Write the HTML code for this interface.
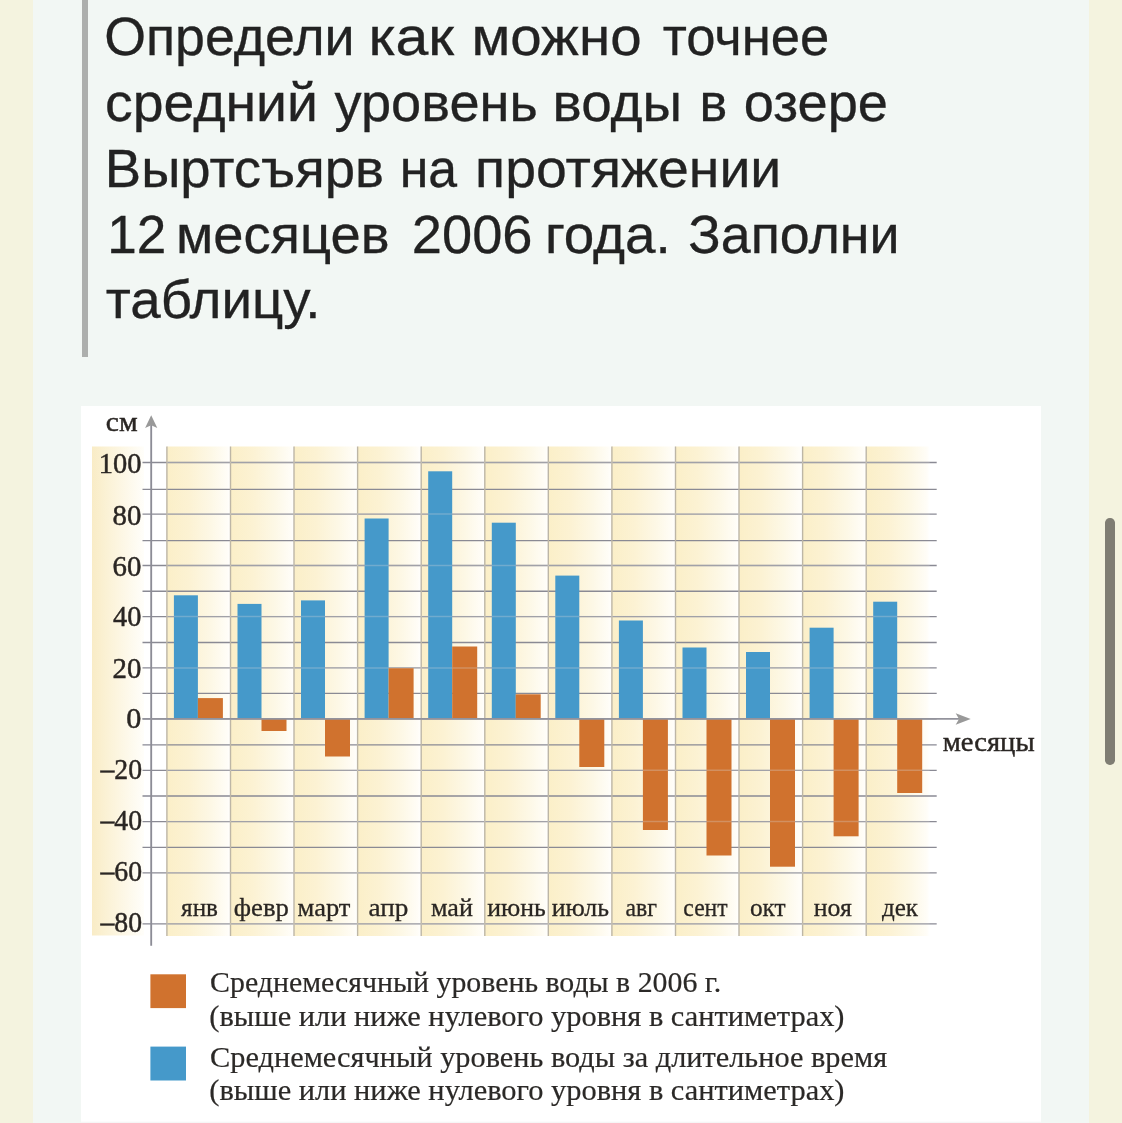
<!DOCTYPE html>
<html lang="ru">
<head>
<meta charset="utf-8">
<title>Определи средний уровень воды</title>
<style>
html,body{margin:0;padding:0;}
body{width:1122px;height:1123px;overflow:hidden;background:#f4f3df;position:relative;font-family:"Liberation Sans",sans-serif;}
.panel{position:absolute;left:32.8px;top:0;width:1056.5px;height:1123px;background:#f2f7f4;}
.quote{position:absolute;left:82.3px;top:0;width:5.5px;height:357px;background:#adafad;}
.title{position:absolute;left:0;top:0;}
.figure{position:absolute;left:81.3px;top:406px;width:960px;height:717px;background:#ffffff;box-shadow:inset 0 -2px 2px -1px rgba(0,0,0,0.05);}
.chart{position:absolute;left:0;top:0;display:block;}
.soft{filter:blur(0.6px);}
.softt{filter:blur(0.5px);}
.scroll{position:absolute;left:1105px;top:517.5px;width:9.5px;height:247px;border-radius:4.75px;background:#7f7d73;}
</style>
</head>
<body>
<div class="panel"></div>
<div class="quote"></div>
<svg class="title" width="1000" height="400" viewBox="0 0 1000 400"><g font-family="'Liberation Sans', sans-serif" fill="#222222" stroke="#222222" stroke-width="0.3">
<text y="55.4" font-size="53.2"><tspan x="104.18" textLength="250.47" lengthAdjust="spacingAndGlyphs">Определи</tspan> <tspan x="368.41" textLength="85.77" lengthAdjust="spacingAndGlyphs">как</tspan> <tspan x="471.47" textLength="170.12" lengthAdjust="spacingAndGlyphs">можно</tspan> <tspan x="662.68" textLength="166.66" lengthAdjust="spacingAndGlyphs">точнее</tspan></text>
<text y="121.0" font-size="53.2"><tspan x="104.97" textLength="213.08" lengthAdjust="spacingAndGlyphs">средний</tspan> <tspan x="334.50" textLength="203.18" lengthAdjust="spacingAndGlyphs">уровень</tspan> <tspan x="552.57" textLength="129.47" lengthAdjust="spacingAndGlyphs">воды</tspan> <tspan x="699.53" textLength="27.81" lengthAdjust="spacingAndGlyphs">в</tspan> <tspan x="743.71" textLength="144.29" lengthAdjust="spacingAndGlyphs">озере</tspan></text>
<text y="186.8" font-size="53.2"><tspan x="104.84" textLength="279.16" lengthAdjust="spacingAndGlyphs">Выртсъярв</tspan> <tspan x="399.66" textLength="57.41" lengthAdjust="spacingAndGlyphs">на</tspan> <tspan x="475.14" textLength="306.21" lengthAdjust="spacingAndGlyphs">протяжении</tspan></text>
<text y="252.7" font-size="53.2"><tspan x="107.28" textLength="59.07" lengthAdjust="spacingAndGlyphs">12</tspan> <tspan x="175.91" textLength="213.59" lengthAdjust="spacingAndGlyphs">месяцев</tspan> <tspan x="411.86" textLength="120.64" lengthAdjust="spacingAndGlyphs">2006</tspan> <tspan x="544.97" textLength="125.89" lengthAdjust="spacingAndGlyphs">года.</tspan> <tspan x="688.32" textLength="211.23" lengthAdjust="spacingAndGlyphs">Заполни</tspan></text>
<text y="317.9" font-size="53.2"><tspan x="105.85" textLength="214.60" lengthAdjust="spacingAndGlyphs">таблицу.</tspan></text>
</g></svg>
<div class="figure">
<svg class="chart" width="960" height="717" viewBox="81.3 406 960 717">
<defs>
<linearGradient id="gc" x1="0" x2="1" y1="0" y2="0"><stop offset="0" stop-color="#fbefc8"/><stop offset="0.35" stop-color="#fcf2d3"/><stop offset="0.7" stop-color="#fdf8e6"/><stop offset="0.95" stop-color="#fffdf7"/><stop offset="1" stop-color="#ffffff"/></linearGradient>
<linearGradient id="gl" x1="0" x2="1" y1="0" y2="0"><stop offset="0" stop-color="#f9ecc6"/><stop offset="0.3" stop-color="#fbf2d6"/><stop offset="0.65" stop-color="#fdf8e8"/><stop offset="1" stop-color="#fffefa"/></linearGradient>
</defs>
<g class="soft">
<rect x="92.3" y="446.5" width="52" height="489" fill="url(#gl)"/>
<rect x="167.2" y="446.5" width="63.6" height="489.5" fill="url(#gc)"/>
<rect x="230.8" y="446.5" width="63.6" height="489.5" fill="url(#gc)"/>
<rect x="294.3" y="446.5" width="63.6" height="489.5" fill="url(#gc)"/>
<rect x="357.9" y="446.5" width="63.6" height="489.5" fill="url(#gc)"/>
<rect x="421.5" y="446.5" width="63.6" height="489.5" fill="url(#gc)"/>
<rect x="485.1" y="446.5" width="63.6" height="489.5" fill="url(#gc)"/>
<rect x="548.6" y="446.5" width="63.6" height="489.5" fill="url(#gc)"/>
<rect x="612.2" y="446.5" width="63.6" height="489.5" fill="url(#gc)"/>
<rect x="675.8" y="446.5" width="63.6" height="489.5" fill="url(#gc)"/>
<rect x="739.3" y="446.5" width="63.6" height="489.5" fill="url(#gc)"/>
<rect x="802.9" y="446.5" width="63.6" height="489.5" fill="url(#gc)"/>
<rect x="866.5" y="446.5" width="63.6" height="489.5" fill="url(#gc)"/>
<line x1="142.8" x2="937" y1="462.5" y2="462.5" stroke="#8a8a94" stroke-width="1.35"/>
<line x1="142.8" x2="937" y1="489.3" y2="489.3" stroke="#8a8a94" stroke-width="1.35"/>
<line x1="142.8" x2="937" y1="514.1" y2="514.1" stroke="#8a8a94" stroke-width="1.35"/>
<line x1="142.8" x2="937" y1="540.6" y2="540.6" stroke="#8a8a94" stroke-width="1.35"/>
<line x1="142.8" x2="937" y1="565.5" y2="565.5" stroke="#8a8a94" stroke-width="1.35"/>
<line x1="142.8" x2="937" y1="591.2" y2="591.2" stroke="#8a8a94" stroke-width="1.35"/>
<line x1="142.8" x2="937" y1="616.6" y2="616.6" stroke="#8a8a94" stroke-width="1.35"/>
<line x1="142.8" x2="937" y1="642.5" y2="642.5" stroke="#8a8a94" stroke-width="1.35"/>
<line x1="142.8" x2="937" y1="667.9" y2="667.9" stroke="#8a8a94" stroke-width="1.35"/>
<line x1="142.8" x2="937" y1="693.3" y2="693.3" stroke="#8a8a94" stroke-width="1.35"/>
<line x1="142.8" x2="937" y1="718.8" y2="718.8" stroke="#8a8a94" stroke-width="1.35"/>
<line x1="142.8" x2="937" y1="744.9" y2="744.9" stroke="#8a8a94" stroke-width="1.35"/>
<line x1="142.8" x2="937" y1="770.3" y2="770.3" stroke="#8a8a94" stroke-width="1.35"/>
<line x1="142.8" x2="937" y1="796.0" y2="796.0" stroke="#8a8a94" stroke-width="1.35"/>
<line x1="142.8" x2="937" y1="821.6" y2="821.6" stroke="#8a8a94" stroke-width="1.35"/>
<line x1="142.8" x2="937" y1="847.4" y2="847.4" stroke="#8a8a94" stroke-width="1.35"/>
<line x1="142.8" x2="937" y1="872.8" y2="872.8" stroke="#8a8a94" stroke-width="1.35"/>
<line x1="142.8" x2="937" y1="923.9" y2="923.9" stroke="#8a8a94" stroke-width="1.35"/>
<line x1="167.2" x2="167.2" y1="446.5" y2="936" stroke="#bdb6a6" stroke-width="1.4"/>
<line x1="230.8" x2="230.8" y1="446.5" y2="936" stroke="#bdb6a6" stroke-width="1.4"/>
<line x1="294.3" x2="294.3" y1="446.5" y2="936" stroke="#bdb6a6" stroke-width="1.4"/>
<line x1="357.9" x2="357.9" y1="446.5" y2="936" stroke="#bdb6a6" stroke-width="1.4"/>
<line x1="421.5" x2="421.5" y1="446.5" y2="936" stroke="#bdb6a6" stroke-width="1.4"/>
<line x1="485.1" x2="485.1" y1="446.5" y2="936" stroke="#bdb6a6" stroke-width="1.4"/>
<line x1="548.6" x2="548.6" y1="446.5" y2="936" stroke="#bdb6a6" stroke-width="1.4"/>
<line x1="612.2" x2="612.2" y1="446.5" y2="936" stroke="#bdb6a6" stroke-width="1.4"/>
<line x1="675.8" x2="675.8" y1="446.5" y2="936" stroke="#bdb6a6" stroke-width="1.4"/>
<line x1="739.3" x2="739.3" y1="446.5" y2="936" stroke="#bdb6a6" stroke-width="1.4"/>
<line x1="802.9" x2="802.9" y1="446.5" y2="936" stroke="#bdb6a6" stroke-width="1.4"/>
<line x1="866.5" x2="866.5" y1="446.5" y2="936" stroke="#bdb6a6" stroke-width="1.4"/>
<rect x="174.2" y="595.3" width="24" height="123.5" fill="#4599ca"/>
<rect x="198.2" y="698.1" width="25" height="20.7" fill="#d0722e"/>
<rect x="237.8" y="603.9" width="24" height="114.9" fill="#4599ca"/>
<rect x="261.8" y="718.8" width="25" height="12.2" fill="#d0722e"/>
<rect x="301.3" y="600.4" width="24" height="118.4" fill="#4599ca"/>
<rect x="325.3" y="718.8" width="25" height="37.7" fill="#d0722e"/>
<rect x="364.9" y="518.5" width="24" height="200.3" fill="#4599ca"/>
<rect x="388.9" y="668.0" width="25" height="50.8" fill="#d0722e"/>
<rect x="428.5" y="471.3" width="24" height="247.5" fill="#4599ca"/>
<rect x="452.5" y="646.5" width="25" height="72.3" fill="#d0722e"/>
<rect x="492.1" y="522.7" width="24" height="196.1" fill="#4599ca"/>
<rect x="516.0" y="694.3" width="25" height="24.5" fill="#d0722e"/>
<rect x="555.6" y="575.6" width="24" height="143.2" fill="#4599ca"/>
<rect x="579.6" y="718.8" width="25" height="48.2" fill="#d0722e"/>
<rect x="619.2" y="620.5" width="24" height="98.3" fill="#4599ca"/>
<rect x="643.2" y="718.8" width="25" height="111.2" fill="#d0722e"/>
<rect x="682.8" y="647.5" width="24" height="71.3" fill="#4599ca"/>
<rect x="706.8" y="718.8" width="25" height="136.7" fill="#d0722e"/>
<rect x="746.3" y="652.0" width="24" height="66.8" fill="#4599ca"/>
<rect x="770.3" y="718.8" width="25" height="147.9" fill="#d0722e"/>
<rect x="809.9" y="627.7" width="24" height="91.1" fill="#4599ca"/>
<rect x="833.9" y="718.8" width="25" height="117.5" fill="#d0722e"/>
<rect x="873.5" y="601.7" width="24" height="117.1" fill="#4599ca"/>
<rect x="897.5" y="718.8" width="25" height="74.2" fill="#d0722e"/>
<line x1="167.2" x2="930" y1="462.5" y2="462.5" stroke="#d6d6d6" stroke-opacity="0.3" stroke-width="1.5"/>
<line x1="167.2" x2="930" y1="514.1" y2="514.1" stroke="#d6d6d6" stroke-opacity="0.3" stroke-width="1.5"/>
<line x1="167.2" x2="930" y1="565.5" y2="565.5" stroke="#d6d6d6" stroke-opacity="0.3" stroke-width="1.5"/>
<line x1="167.2" x2="930" y1="616.6" y2="616.6" stroke="#d6d6d6" stroke-opacity="0.3" stroke-width="1.5"/>
<line x1="167.2" x2="930" y1="667.9" y2="667.9" stroke="#d6d6d6" stroke-opacity="0.3" stroke-width="1.5"/>
<line x1="167.2" x2="930" y1="770.3" y2="770.3" stroke="#d6d6d6" stroke-opacity="0.3" stroke-width="1.5"/>
<line x1="167.2" x2="930" y1="821.6" y2="821.6" stroke="#d6d6d6" stroke-opacity="0.3" stroke-width="1.5"/>
<line x1="167.2" x2="930" y1="872.8" y2="872.8" stroke="#d6d6d6" stroke-opacity="0.3" stroke-width="1.5"/>
<line x1="167.2" x2="930" y1="923.9" y2="923.9" stroke="#d6d6d6" stroke-opacity="0.3" stroke-width="1.5"/>
<line x1="151.5" x2="151.5" y1="424" y2="945.8" stroke="#8c8c96" stroke-width="1.85"/>
<path d="M151.5 415.2 L157.6 428 L151.5 425.2 L145.4 428 Z" fill="#999999"/>
<line x1="142.8" x2="960" y1="718.8" y2="718.8" stroke="#93939c" stroke-width="1.8"/>
<path d="M971 719.0 L956 713.1999999999999 L959.3 719.0 L956 724.8 Z" fill="#999999"/>
<rect x="150.7" y="974.3" width="35.6" height="33.8" fill="#d0722e"/>
<rect x="150.7" y="1046.6" width="35.6" height="33.9" fill="#4599ca"/>
</g>
<g class="softt" font-family="'Liberation Serif', serif" fill="#2a2623" stroke="#2a2623" stroke-width="0.45">
<text x="106.18" y="430.8" font-size="28" textLength="31.82" lengthAdjust="spacingAndGlyphs">см</text>
<text x="98.98" y="473.2" font-size="28.5" textLength="42.71" lengthAdjust="spacingAndGlyphs">100</text>
<text x="112.90" y="525.3" font-size="28.5" textLength="28.80" lengthAdjust="spacingAndGlyphs">80</text>
<text x="112.90" y="576.0" font-size="28.5" textLength="28.80" lengthAdjust="spacingAndGlyphs">60</text>
<text x="113.36" y="626.4" font-size="28.5" textLength="28.33" lengthAdjust="spacingAndGlyphs">40</text>
<text x="112.90" y="678.4" font-size="28.5" textLength="28.80" lengthAdjust="spacingAndGlyphs">20</text>
<text x="126.66" y="727.9" font-size="28.5" textLength="15.09" lengthAdjust="spacingAndGlyphs">0</text>
<text x="100.73" y="779.3" font-size="28.5" textLength="41.63" lengthAdjust="spacingAndGlyphs">–20</text>
<text x="100.73" y="830.4" font-size="28.5" textLength="41.63" lengthAdjust="spacingAndGlyphs">–40</text>
<text x="100.73" y="881.3" font-size="28.5" textLength="41.63" lengthAdjust="spacingAndGlyphs">–60</text>
<text x="100.73" y="932.4" font-size="28.5" textLength="41.63" lengthAdjust="spacingAndGlyphs">–80</text>
<text x="942.95" y="750.5" font-size="28" textLength="91.99" lengthAdjust="spacingAndGlyphs">месяцы</text>
</g>
<g class="softt" font-family="'Liberation Serif', serif" fill="#2a2623" stroke="#2a2623" stroke-width="0.28">
<text x="181.40" y="916.3" font-size="25" textLength="36.88" lengthAdjust="spacingAndGlyphs">янв</text>
<text x="234.07" y="916.3" font-size="25" textLength="55.07" lengthAdjust="spacingAndGlyphs">февр</text>
<text x="297.89" y="916.3" font-size="25" textLength="52.80" lengthAdjust="spacingAndGlyphs">март</text>
<text x="368.75" y="916.3" font-size="25" textLength="39.90" lengthAdjust="spacingAndGlyphs">апр</text>
<text x="431.29" y="916.3" font-size="25" textLength="41.92" lengthAdjust="spacingAndGlyphs">май</text>
<text x="487.60" y="916.3" font-size="25" textLength="58.58" lengthAdjust="spacingAndGlyphs">июнь</text>
<text x="552.10" y="916.3" font-size="25" textLength="57.18" lengthAdjust="spacingAndGlyphs">июль</text>
<text x="625.86" y="916.3" font-size="25" textLength="31.51" lengthAdjust="spacingAndGlyphs">авг</text>
<text x="683.66" y="916.3" font-size="25" textLength="44.23" lengthAdjust="spacingAndGlyphs">сент</text>
<text x="750.21" y="916.3" font-size="25" textLength="35.78" lengthAdjust="spacingAndGlyphs">окт</text>
<text x="814.10" y="916.3" font-size="25" textLength="38.08" lengthAdjust="spacingAndGlyphs">ноя</text>
<text x="882.20" y="916.3" font-size="25" textLength="36.05" lengthAdjust="spacingAndGlyphs">дек</text>
</g>
<g class="softt" font-family="'Liberation Serif', serif" fill="#2b2927" stroke="#2b2927" stroke-width="0.2">
<text x="210.37" y="991.7" font-size="29.5" textLength="511.10" lengthAdjust="spacingAndGlyphs">Среднемесячный уровень воды в 2006 г.</text>
<text x="209.65" y="1025.5" font-size="29.5" textLength="635.15" lengthAdjust="spacingAndGlyphs">(выше или ниже нулевого уровня в сантиметрах)</text>
<text x="210.35" y="1067.0" font-size="29.5" textLength="677.06" lengthAdjust="spacingAndGlyphs">Среднемесячный уровень воды за длительное время</text>
<text x="209.65" y="1099.8" font-size="29.5" textLength="635.15" lengthAdjust="spacingAndGlyphs">(выше или ниже нулевого уровня в сантиметрах)</text>
</g>
</svg>
</div>
<div class="scroll"></div>
</body>
</html>
